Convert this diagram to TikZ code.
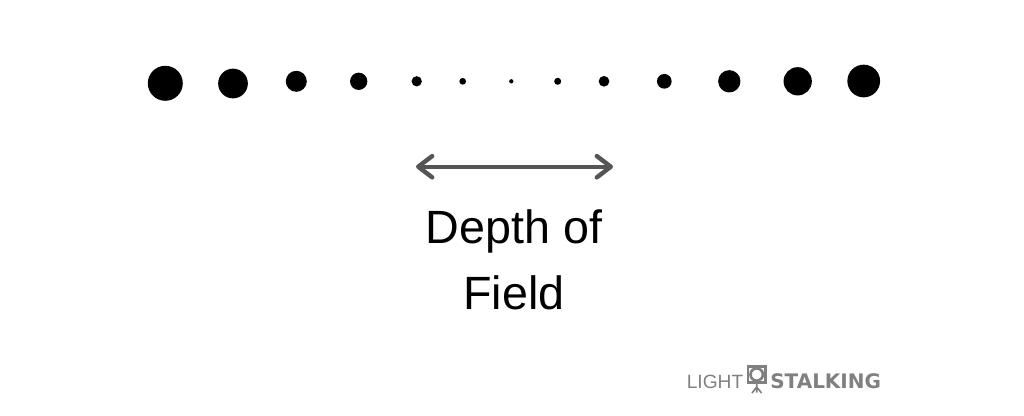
\documentclass[tikz,border=0pt]{standalone}
\usepackage{fontspec}
\setmainfont{Liberation Sans}
\newfontfamily\logofont{DejaVu Sans}
\usetikzlibrary{arrows.meta,positioning}
\definecolor{fl}{RGB}{85,85,85}
\definecolor{lg}{RGB}{128,128,128}
\tikzset{
  point/.style={circle,fill=black,inner sep=0pt,minimum size=#1*0.75pt},
  fleche/.style={draw=fl,line width=2.7pt,line cap=round,
    {Straight Barb[length=10.5pt,width=16pt,line width=3.3pt,round]}-{Straight Barb[length=10.5pt,width=16pt,line width=3.3pt,round]}},
  logo/.style={lg,inner sep=0pt,anchor=base west}
}
\begin{document}
\begin{tikzpicture}[x=0.75pt,y=-0.75pt]
\useasboundingbox (0,0) rectangle (1024,415);
% la rangee de points
\foreach \n/\x/\y/\d in {1/165.3/83.3/35,2/233/83.5/29.7,3/296.3/81.3/21,4/358.7/81.3/17.3,
  5/416.7/81.3/10.3,6/462.7/81.3/6.7,7/511.3/81.3/4.3,8/557.7/81.3/7,9/604/81.3/10.7,
  10/664.3/81.3/14.7,11/729.3/81.3/22.3,12/797.7/81.3/28.3,13/863.7/81/32.7}
  \node[point=\d] (p\n) at (\x,\y) {};
% la fleche
\coordinate (gauche) at (416,166.7);
\coordinate (droite) at (613,166.7);
\draw[fleche] (gauche)--(droite);
% le texte
\node[align=center,inner sep=0pt,font=\fontsize{35}{49.5}\selectfont] (titre) at (514,260) {Depth of\\Field};
% le logo
\node[logo,font=\fontsize{14.4}{16}\selectfont] (light) at (686.5,388) {LIGHT};
\node[logo,font=\logofont\bfseries\fontsize{15}{16}\selectfont] (stalking) at (770,388) {STALKING};
\draw[lg,line width=2pt] (748,366.5) rectangle (765.5,382.5);
\draw[fill=white,draw=lg,line width=2pt] (756.7,374.5) circle (6.2);
\draw[lg,line width=1.2pt] (756.7,382)--(756.7,392.5) (756.7,387)--(752,393) (756.7,387)--(761.5,393);
\end{tikzpicture}
\end{document}
